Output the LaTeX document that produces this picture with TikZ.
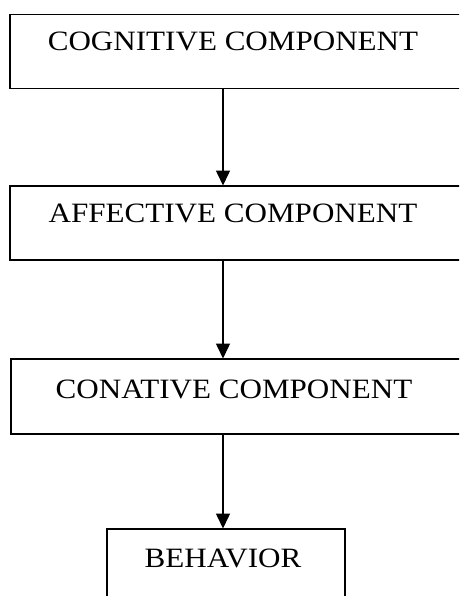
\documentclass[tikz,border=0pt]{standalone}
\usepackage{fontspec}
\setmainfont{Liberation Serif}
\usetikzlibrary{arrows.meta}
\tikzset{
  boxframe/.style={draw=black, line width=1.5pt, rectangle, inner sep=0pt, anchor=north west},
  boxtext/.style={anchor=base, inner sep=0pt, font=\fontsize{28}{31}\selectfont},
  arr/.style={line width=1.5pt, -{Triangle[length=15pt,width=14pt]}, shorten >=-0.5pt}
}
\newcommand{\wide}[1]{\scalebox{1.11}[1]{#1}}
\begin{document}
\begin{tikzpicture}[x=1pt,y=-1pt]
  \useasboundingbox (0,0) rectangle (459,596);
  \clip (0,0) rectangle (459,596);
  \coordinate (xa) at (223,0);
  \node[boxframe, minimum width=470pt, minimum height=74pt] (cog) at (9,14) {};
  \node[boxframe, minimum width=470pt, minimum height=74pt] (aff) at (9,185) {};
  \node[boxframe, minimum width=470pt, minimum height=75pt] (con) at (10,358) {};
  \node[boxframe, minimum width=238pt, minimum height=90pt] (beh) at (106,528) {};
  \node[boxtext] (cogt) at (233,51) {\wide{COGNITIVE COMPONENT}};
  \node[boxtext] (afft) at (233,222) {\wide{AFFECTIVE COMPONENT}};
  \node[boxtext] (cont) at (234,398) {\wide{CONATIVE COMPONENT}};
  \node[boxtext] (beht) at (223,567) {\wide{BEHAVIOR}};
  \draw[arr] (cog.south -| xa) -- (aff.north -| xa);
  \draw[arr] (aff.south -| xa) -- (con.north -| xa);
  \draw[arr] (con.south -| xa) -- (beh.north -| xa);
\end{tikzpicture}
\end{document}
